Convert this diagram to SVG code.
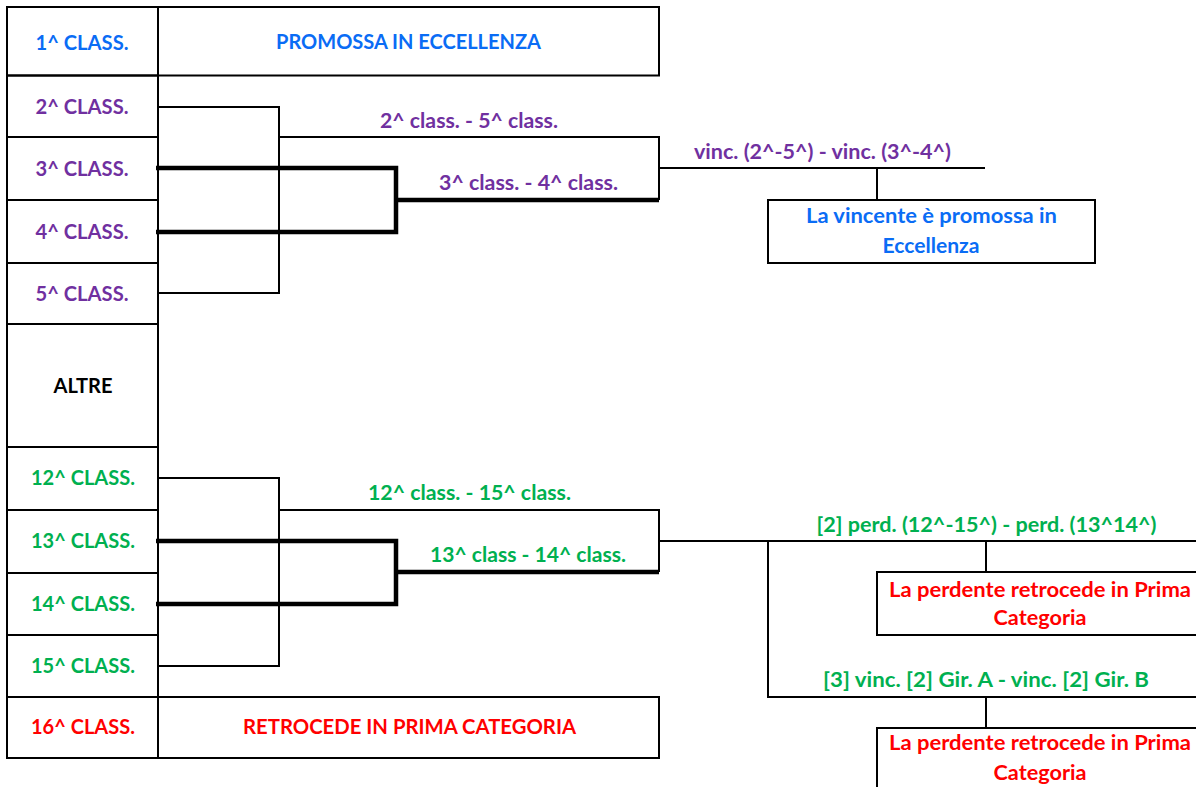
<svg xmlns="http://www.w3.org/2000/svg" width="1196" height="787" viewBox="0 0 1196 787">
<style>
.box{fill:none;stroke:#000;stroke-width:2}
.ln{fill:none;stroke:#000;stroke-width:2}
.thick{fill:none;stroke:#000;stroke-width:4.5}
text{font-family:Lato,"Open Sans","Liberation Sans",sans-serif;font-weight:bold;font-size:21px;text-anchor:middle}
.blue{fill:#0A6CF5}
.purple{fill:#7030A0}
.green{fill:#00B050}
.red{fill:#FF0000}
.black{fill:#000}
</style>
<rect x="0" y="0" width="1196" height="787" fill="#fff"/>
<g id="row1"><rect class="box" x="7" y="7" width="151" height="68.5"/><text class="blue" x="82" y="50" textLength="93" lengthAdjust="spacingAndGlyphs">1^ CLASS.</text></g>
<g id="promossa"><rect class="box" x="158" y="7" width="501" height="68.5"/><text class="blue" x="408.5" y="49" textLength="265" lengthAdjust="spacingAndGlyphs">PROMOSSA IN ECCELLENZA</text></g>
<g id="row2"><rect class="box" x="7" y="75.5" width="151" height="61.5"/><text class="purple" x="82" y="114" textLength="93" lengthAdjust="spacingAndGlyphs">2^ CLASS.</text></g>
<g id="row3"><rect class="box" x="7" y="137" width="151" height="63"/><text class="purple" x="82" y="176" textLength="93" lengthAdjust="spacingAndGlyphs">3^ CLASS.</text></g>
<g id="row4"><rect class="box" x="7" y="200" width="151" height="63"/><text class="purple" x="82" y="239" textLength="93" lengthAdjust="spacingAndGlyphs">4^ CLASS.</text></g>
<g id="row5"><rect class="box" x="7" y="263" width="151" height="61"/><text class="purple" x="82" y="301" textLength="93" lengthAdjust="spacingAndGlyphs">5^ CLASS.</text></g>
<g id="altre"><rect class="box" x="7" y="324" width="151" height="123"/><text class="black" x="83" y="393" textLength="59" lengthAdjust="spacingAndGlyphs">ALTRE</text></g>
<g id="row12"><rect class="box" x="7" y="447" width="151" height="63"/><text class="green" x="83" y="485" textLength="104" lengthAdjust="spacingAndGlyphs">12^ CLASS.</text></g>
<g id="row13"><rect class="box" x="7" y="510" width="151" height="63"/><text class="green" x="83" y="548" textLength="104" lengthAdjust="spacingAndGlyphs">13^ CLASS.</text></g>
<g id="row14"><rect class="box" x="7" y="573" width="151" height="62"/><text class="green" x="83" y="610.5" textLength="104" lengthAdjust="spacingAndGlyphs">14^ CLASS.</text></g>
<g id="row15"><rect class="box" x="7" y="635" width="151" height="62"/><text class="green" x="83" y="672.5" textLength="104" lengthAdjust="spacingAndGlyphs">15^ CLASS.</text></g>
<g id="row16"><rect class="box" x="7" y="697" width="151" height="61"/><text class="red" x="83" y="734" textLength="104" lengthAdjust="spacingAndGlyphs">16^ CLASS.</text></g>
<g id="retrocede"><rect class="box" x="158" y="697" width="501" height="61"/><text class="red" x="409.5" y="734" textLength="333" lengthAdjust="spacingAndGlyphs">RETROCEDE IN PRIMA CATEGORIA</text></g>
<g id="vincente"><rect class="box" x="768" y="200" width="327" height="63"/><text class="blue" x="931.5" y="223" textLength="251" lengthAdjust="spacingAndGlyphs">La vincente è promossa in</text><text class="blue" x="931" y="253" textLength="97" lengthAdjust="spacingAndGlyphs">Eccellenza</text></g>
<g id="perdente1"><rect class="box" x="877" y="572" width="330" height="63"/><text class="red" x="1040" y="596.5" textLength="302" lengthAdjust="spacingAndGlyphs">La perdente retrocede in Prima</text><text class="red" x="1040" y="625" textLength="93" lengthAdjust="spacingAndGlyphs">Categoria</text></g>
<g id="perdente2"><rect class="box" x="877" y="728" width="330" height="80"/><text class="red" x="1040" y="750" textLength="302" lengthAdjust="spacingAndGlyphs">La perdente retrocede in Prima</text><text class="red" x="1040" y="780" textLength="93" lengthAdjust="spacingAndGlyphs">Categoria</text></g>
<g id="connectors">
<path class="ln" d="M158 107H279V293H158"/>
<path class="ln" d="M279 137H659V200"/>
<path class="thick" d="M156 168H396V232H156"/>
<path class="thick" d="M396 200H659"/>
<path class="ln" d="M659 168H985"/>
<path class="ln" d="M877 168V200"/>
<path class="ln" d="M158 478H279V666H158"/>
<path class="ln" d="M279 510H659V572"/>
<path class="thick" d="M156 541H396V604H156"/>
<path class="thick" d="M396 572H659"/>
<path class="ln" d="M659 541H1196"/>
<path class="ln" d="M768 541V697H1196"/>
<path class="ln" d="M986 541V572"/>
<path class="ln" d="M986 697V728"/>
<text class="purple" x="469" y="128" textLength="178" lengthAdjust="spacingAndGlyphs">2^ class. - 5^ class.</text>
<text class="purple" x="528.5" y="190" textLength="179" lengthAdjust="spacingAndGlyphs">3^ class. - 4^ class.</text>
<text class="purple" x="822.5" y="159" textLength="257" lengthAdjust="spacingAndGlyphs">vinc. (2^-5^) - vinc. (3^-4^)</text>
<text class="green" x="469.5" y="500" textLength="203" lengthAdjust="spacingAndGlyphs">12^ class. - 15^ class.</text>
<text class="green" x="528" y="561.5" textLength="196" lengthAdjust="spacingAndGlyphs">13^ class - 14^ class.</text>
<text class="green" x="986.5" y="532" textLength="340" lengthAdjust="spacingAndGlyphs">[2] perd. (12^-15^) - perd. (13^14^)</text>
<text class="green" x="986" y="687" textLength="326" lengthAdjust="spacingAndGlyphs">[3] vinc. [2] Gir. A - vinc. [2] Gir. B</text>
</g>
</svg>
